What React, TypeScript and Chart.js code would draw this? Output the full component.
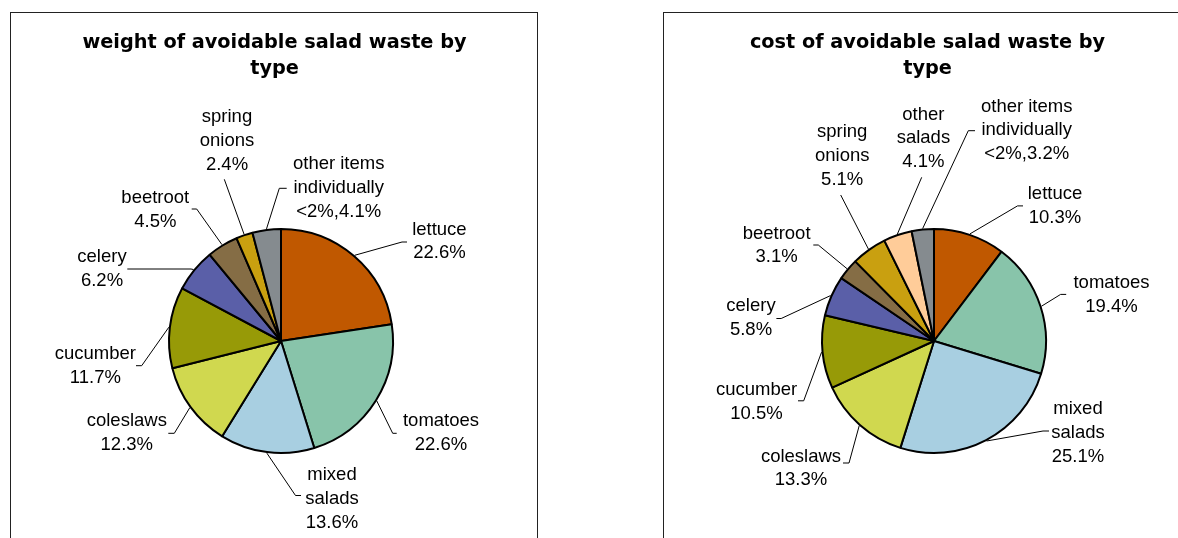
import React, { useEffect, useRef } from "react";
import { Chart, ArcElement, PieController } from "chart.js";

Chart.register(ArcElement, PieController);

// ---------- data ----------
const weightCategories = [
  "lettuce",
  "tomatoes",
  "mixed salads",
  "coleslaws",
  "cucumber",
  "celery",
  "beetroot",
  "spring onions",
  "other items individually <2%",
];
const weightValues = [22.6, 22.6, 13.6, 12.3, 11.7, 6.2, 4.5, 2.4, 4.1];

const costCategories = [
  "lettuce",
  "tomatoes",
  "mixed salads",
  "coleslaws",
  "cucumber",
  "celery",
  "beetroot",
  "spring onions",
  "other salads",
  "other items individually <2%",
];
const costValues = [10.3, 19.4, 25.1, 13.3, 10.5, 5.8, 3.1, 5.1, 4.1, 3.2];

const weightTitle = ["weight of avoidable salad waste by", "type"];
const costTitle = ["cost of avoidable salad waste by", "type"];

// how each category name is broken into label lines
const labelLineBreaks: Record<string, string[]> = {
  lettuce: ["lettuce"],
  tomatoes: ["tomatoes"],
  "mixed salads": ["mixed", "salads"],
  coleslaws: ["coleslaws"],
  cucumber: ["cucumber"],
  celery: ["celery"],
  beetroot: ["beetroot"],
  "spring onions": ["spring", "onions"],
  "other salads": ["other", "salads"],
  "other items individually <2%": ["other items", "individually", "<2%"],
};

// ---------- styles ----------
const sliceColors: Record<string, string> = {
  lettuce: "#C05800",
  tomatoes: "#88C4AA",
  "mixed salads": "#A8CFE1",
  coleslaws: "#D0D84F",
  cucumber: "#979A07",
  celery: "#5A5FA8",
  beetroot: "#856D45",
  "spring onions": "#C9A010",
  "other salads": "#FFCC99",
  "other items individually <2%": "#858B8F",
};

const LABEL_FONT = '18.5px "Liberation Sans", Arial, sans-serif';
const TITLE_FONT = 'bold 19.3px "DejaVu Sans", Verdana, sans-serif';
const LINE_H = 23.8;

// label placement relative to the pie centre (text centre, leader elbow, tick end)
type LabelPos = { tx: number; ty: number; ex: number; ey: number; kx?: number };
const weightLabelLayout: LabelPos[] = [
  { tx: 158.4, ty: -99.5, ex: 121, ey: -99, kx: 126 },
  { tx: 160, ty: 92, ex: 111.7, ey: 92.3, kx: 115.7 },
  { tx: 51, ty: 157.7, ex: 14.5, ey: 154.5, kx: 20 },
  { tx: -154.2, ty: 91.9, ex: -106.7, ey: 92.3, kx: -112.7 },
  { tx: -185.6, ty: 24.8, ex: -139.3, ey: 24.7, kx: -145 },
  { tx: -179, ty: -72.3, ex: -90, ey: -72, kx: -153.7 },
  { tx: -125.7, ty: -131, ex: -84.3, ey: -132, kx: -89.3 },
  { tx: -54, ty: -200, ex: -56.7, ey: -161.7 },
  { tx: 57.7, ty: -153, ex: -1.7, ey: -152.7, kx: 5.7 },
];
const costLabelLayout: LabelPos[] = [
  { tx: 121, ty: -135.1, ex: 83.5, ey: -135.1, kx: 89 },
  { tx: 177.5, ty: -46.2, ex: 126.6, ey: -46.6, kx: 132.2 },
  { tx: 144, ty: 92, ex: 109, ey: 90, kx: 115 },
  { tx: -133, ty: 127.4, ex: -85, ey: 122, kx: -91 },
  { tx: -177.5, ty: 60.9, ex: -130.3, ey: 59.8, kx: -136 },
  { tx: -183, ty: -22.7, ex: -152.8, ey: -22.5, kx: -157.6 },
  { tx: -157.4, ty: -95.6, ex: -115.7, ey: -96, kx: -120.7 },
  { tx: -91.8, ty: -184.8, ex: -93.3, ey: -146 },
  { tx: -10.6, ty: -202.7, ex: -12.3, ey: -163.7 },
  { tx: 92.7, ty: -210.6, ex: 34.3, ey: -210.3, kx: 41 },
];

function buildLabelLines(categories: string[], values: number[]): string[][] {
  return categories.map((c, i) => {
    const lines = [...labelLineBreaks[c]];
    const pct = values[i].toFixed(1) + "%";
    if (lines[lines.length - 1] === "<2%") {
      lines[lines.length - 1] = "<2%," + pct;
    } else {
      lines.push(pct);
    }
    return lines;
  });
}

// ---------- plugins ----------
const titlePlugin = {
  id: "panelTitle",
  afterDraw(chart: any, _args: any, opts: any) {
    const ctx = chart.ctx;
    ctx.save();
    ctx.font = TITLE_FONT;
    ctx.fillStyle = "#000";
    ctx.textAlign = "center";
    ctx.textBaseline = "alphabetic";
    (opts.lines || []).forEach((t: string, i: number) =>
      ctx.fillText(t, opts.x, opts.y + i * opts.lineHeight)
    );
    ctx.restore();
  },
};

const leaderLabelPlugin = {
  id: "leaderLabels",
  afterDatasetsDraw(chart: any, _args: any, opts: any) {
    const meta = chart.getDatasetMeta(0);
    const ctx = chart.ctx;
    ctx.save();
    meta.data.forEach((arc: any, i: number) => {
      const { x, y, startAngle, endAngle, outerRadius } = arc.getProps(
        ["x", "y", "startAngle", "endAngle", "outerRadius"],
        true
      );
      const L: LabelPos = opts.layout[i];
      if (!L) return;
      const mid = (startAngle + endAngle) / 2;
      const sx = x + (outerRadius + 1) * Math.cos(mid);
      const sy = y + (outerRadius + 1) * Math.sin(mid);
      ctx.strokeStyle = "#000";
      ctx.lineWidth = 1;
      ctx.beginPath();
      ctx.moveTo(sx, sy);
      ctx.lineTo(x + L.ex, y + L.ey);
      if (L.kx !== undefined) ctx.lineTo(x + L.kx, y + L.ey);
      ctx.stroke();

      const lines: string[] = opts.texts[i];
      ctx.font = LABEL_FONT;
      ctx.fillStyle = "#000";
      ctx.textAlign = "center";
      ctx.textBaseline = "middle";
      lines.forEach((t, j) =>
        ctx.fillText(t, x + L.tx, y + L.ty + (j - (lines.length - 1) / 2) * LINE_H)
      );
    });
    ctx.restore();
  },
};

// ---------- component ----------
type PieProps = {
  categories: string[];
  values: number[];
  title: string[];
  layout: LabelPos[];
  left: number;
};

function PiePanel({ categories, values, title, layout, left }: PieProps) {
  const ref = useRef<HTMLCanvasElement | null>(null);

  useEffect(() => {
    if (!ref.current) return;
    const chart = new Chart(ref.current, {
      type: "pie",
      data: {
        labels: categories,
        datasets: [
          {
            data: values,
            backgroundColor: categories.map((c) => sliceColors[c]),
            borderColor: "#000",
            borderWidth: 2,
            radius: 112,
          } as any,
        ],
      },
      options: {
        responsive: false,
        animation: false,
        devicePixelRatio: 1,
        layout: { padding: { left: 15, right: 0, top: 131, bottom: 0 } },
        plugins: {
          legend: { display: false },
          tooltip: { enabled: false },
          panelTitle: { lines: title, x: 263.5, y: 35.3, lineHeight: 25.7 },
          leaderLabels: { layout, texts: buildLabelLines(categories, values) },
        } as any,
      },
      plugins: [leaderLabelPlugin, titlePlugin],
    });
    return () => chart.destroy();
  }, []);

  return (
    <>
      <div
        style={{
          position: "absolute",
          left,
          top: 12,
          width: 528,
          height: 600,
          boxSizing: "border-box",
          border: "1px solid #222",
          background: "#fff",
        }}
      />
      <canvas
        ref={ref}
        width={525}
        height={525}
        style={{ position: "absolute", left: left + 1, top: 13, width: 525, height: 525 }}
      />
    </>
  );
}

export default function App() {
  return (
    <div
      style={{
        position: "fixed",
        left: 0,
        top: 0,
        width: 1178,
        height: 538,
        overflow: "hidden",
        background: "#fff",
      }}
    >
      <PiePanel
        categories={weightCategories}
        values={weightValues}
        title={weightTitle}
        layout={weightLabelLayout}
        left={10}
      />
      <PiePanel
        categories={costCategories}
        values={costValues}
        title={costTitle}
        layout={costLabelLayout}
        left={663}
      />
    </div>
  );
}
